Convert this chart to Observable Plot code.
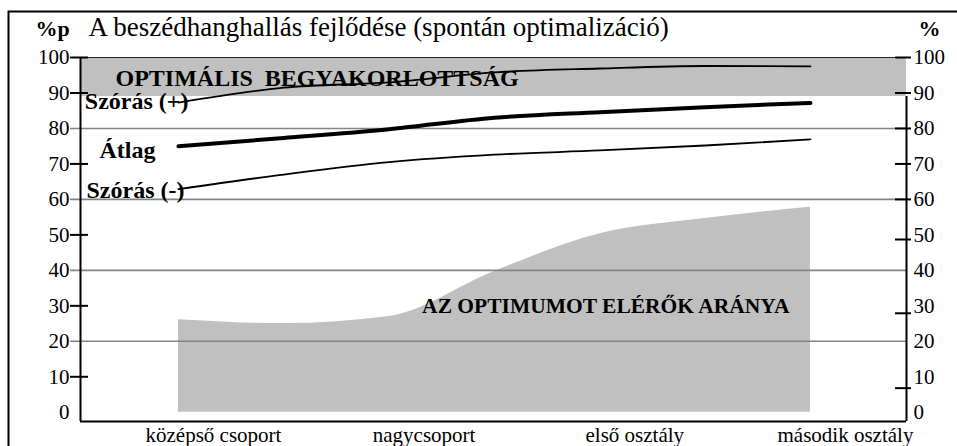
<!DOCTYPE html>
<html>
<head>
<meta charset="utf-8">
<script src="https://cdn.jsdelivr.net/npm/d3@7"></script>
<script src="https://cdn.jsdelivr.net/npm/@observablehq/plot@0.6"></script>
<style>
  body { margin: 0; background: #fff; }
  #wrap { width: 957px; height: 446px; overflow: hidden; position: relative; }
</style>
</head>
<body>
<div id="wrap"></div>
<script>
// ---- data ----
const title = "A beszédhanghallás fejlődése (spontán optimalizáció)";
const leftUnit = "%p";
const rightUnit = "%";
const categories = ["középső csoport", "nagycsoport", "első osztály", "második osztály"];
const categoryIndex = [0, 1, 2, 3];
// positions along the category axis where the curves were read (0 = first category)
const samplePositions = [0, 0.5, 1, 1.5, 2, 2.5, 3];
const szorasPlus  = [87.3, 91.5, 93.0, 95.8, 96.9, 97.6, 97.5];
const atlag       = [75.0, 77.3, 79.8, 83.0, 84.6, 86.0, 87.2];
const szorasMinus = [62.9, 67.0, 70.5, 72.6, 73.8, 75.2, 76.9];
const optimumArany = [26.1, 25.0, 27.0, 39.7, 50.3, 54.6, 57.8];
const axisLabels = [100, 90, 80, 70, 60, 50, 40, 30, 20, 10, 0];
const gridLines = [80, 60, 40, 20];
const leftTicks = [100, 90, 70, 50, 30, 10];
const rightTicks = [100, 90, 80, 70, 60, 48.7, 27.9, 6.8];
const optimalBand = [{lo: 89, hi: 100, label: "OPTIMÁLIS  BEGYAKORLOTTSÁG"}];
const areaLabel = [{x: 2, y: 30, label: "AZ OPTIMUMOT ELÉRŐK ARÁNYA"}];
const lineLabels = ["Szórás (+)", "Átlag", "Szórás (-)"];

// ---- build ----
const rows = samplePositions.map((p, i) => ({
  p, plus: szorasPlus[i], mean: atlag[i], minus: szorasMinus[i], share: optimumArany[i]
}));
const xDomain = [-0.465, 3.456];
const yDomain = [-2.6, 100];
const serif = "'Liberation Serif', 'Times New Roman', serif";

const plot = Plot.plot({
  width: 957,
  height: 446,
  marginLeft: 80,
  marginRight: 51,
  marginTop: 57,
  marginBottom: 25,
  x: {domain: xDomain, axis: null},
  y: {domain: yDomain, axis: null},
  style: {fontFamily: serif, fontSize: "21px", background: "white", color: "black", overflow: "hidden"},
  marks: [
    Plot.frame({stroke: "black", strokeWidth: 2, insetLeft: -72, insetTop: -46, insetRight: -90, insetBottom: -80}),
    Plot.rect(optimalBand, {y1: "lo", y2: "hi", fill: "#c0c0c0"}),
    Plot.areaY(rows, {x: "p", y: "share", fill: "#c0c0c0", curve: "monotone-x"}),
    Plot.ruleY(gridLines, {stroke: "#858585", strokeWidth: 1.6, insetLeft: -10}),
    Plot.ruleY([100], {stroke: "#222", strokeWidth: 1, insetRight: 9}),
    Plot.ruleX([xDomain[0]], {y1: yDomain[0], y2: 100, stroke: "black", strokeWidth: 2}),
    Plot.ruleX([xDomain[1]], {y1: yDomain[0], y2: optimalBand[0].lo, stroke: "black", strokeWidth: 2}),
    Plot.ruleY([yDomain[0]], {stroke: "black", strokeWidth: 2}),
    Plot.tickY(leftTicks, {y: d => d, stroke: "black", strokeWidth: 2, insetLeft: -10, insetRight: 818}),
    Plot.tickY(rightTicks, {y: d => d, stroke: "black", strokeWidth: 2, insetLeft: 815, insetRight: -5}),
    Plot.text(axisLabels, {y: d => d, text: d => String(d), frameAnchor: "left", textAnchor: "end", dx: -11, fontSize: 21}),
    Plot.text(axisLabels, {y: d => d, text: d => String(d), frameAnchor: "right", textAnchor: "start", dx: 7, fontSize: 21}),
    Plot.text(categoryIndex, {x: d => d, text: d => categories[d], frameAnchor: "bottom", lineAnchor: "top", dy: 6, dx: 35, fontSize: 21}),
    Plot.line(rows, {x: "p", y: "plus", stroke: "black", strokeWidth: 1.8, curve: "monotone-x"}),
    Plot.line(rows, {x: "p", y: "mean", stroke: "black", strokeWidth: 4, curve: "monotone-x"}),
    Plot.line(rows, {x: "p", y: "minus", stroke: "black", strokeWidth: 1.8, curve: "monotone-x"}),
    Plot.text([rows[0]], {x: "p", y: "plus", text: () => lineLabels[0], textAnchor: "end", dx: 10, dy: -1, fontWeight: "bold", fontSize: 24}),
    Plot.text([rows[0]], {x: "p", y: "mean", text: () => lineLabels[1], textAnchor: "end", dx: -23, dy: 4, fontWeight: "bold", fontSize: 24}),
    Plot.text([rows[0]], {x: "p", y: "minus", text: () => lineLabels[2], textAnchor: "end", dx: 6, dy: 1, fontWeight: "bold", fontSize: 24}),
    Plot.text(optimalBand, {y: d => (d.lo + d.hi) / 2, text: "label", frameAnchor: "left", textAnchor: "start", dx: 35, dy: 1, fontWeight: "bold", fontSize: 24}),
    Plot.text(areaLabel, {x: "x", y: "y", text: "label", dx: 6, fontWeight: "bold", fontSize: 21.5}),
    Plot.text([title], {text: d => d, frameAnchor: "top-left", textAnchor: "start", lineAnchor: "bottom", dx: 8, dy: -22, fontSize: 27}),
    Plot.text([leftUnit], {text: d => d, frameAnchor: "top-left", textAnchor: "start", lineAnchor: "bottom", dx: -45, dy: -22, fontWeight: "bold", fontSize: 22}),
    Plot.text([rightUnit], {text: d => d, frameAnchor: "top-right", textAnchor: "start", lineAnchor: "bottom", dx: 12, dy: -22, fontWeight: "bold", fontSize: 22})
  ]
});
document.getElementById("wrap").appendChild(plot);
</script>
</body>
</html>
